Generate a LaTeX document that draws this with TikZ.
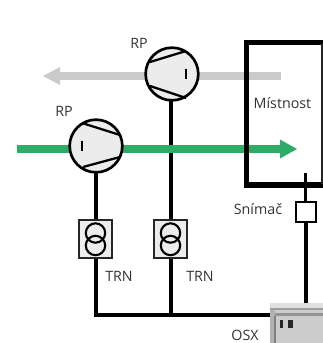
\documentclass[tikz,border=0pt]{standalone}
\usepackage{fontspec}
\setmainfont{Open Sans}
\definecolor{greenpipe}{HTML}{2FAD68}
\definecolor{graypipe}{HTML}{CACACA}
\definecolor{fillgray}{HTML}{ECECEC}
\definecolor{txt}{HTML}{333333}
\tikzset{
  wire/.style={line width=3pt,black},
  pumpbody/.style={circle,draw=black,line width=2pt,fill=fillgray,minimum size=39.5pt,inner sep=0pt},
  trnbox/.style={rectangle,draw=black!85,line width=1.6pt,fill=fillgray,minimum width=25pt,minimum height=29pt,inner sep=0pt},
  lab/.style={font=\fontsize{10.7pt}{12pt}\selectfont,text=txt,inner sep=0pt},
  ring/.style={draw=black,line width=1.6pt},
  pipeG/.style={line width=5.5pt,greenpipe},
  pipeH/.style={line width=6pt,graypipe},
  blade/.style={black,line width=1.7pt},
}
\begin{document}
\begin{tikzpicture}[x=0.75pt,y=-0.75pt]
\useasboundingbox (0,0) rectangle (323,343);
\coordinate (gs) at (17,149);
\coordinate (ge) at (280,149);
\coordinate (gt) at (297,149);
\coordinate (hs) at (281,76);
\coordinate (he) at (60,76);
\coordinate (ht) at (43,76);
\coordinate (br) at (170.5,315);
\coordinate (osxin) at (272,315);
\coordinate (sntop) at (305.5,173);
\coordinate (cabtop) at (305.5,303);
% gray pipe
\draw[pipeH] (hs) -- (he);
\fill[graypipe] (60,67) -- (ht) -- (60,85) -- cycle;
% nodes
\node[pumpbody] (p1) at (170.5,74) [xshift=1.1pt] {};
\node[trnbox] (t1) at (95.5,239) {};
\node[trnbox] (t2) at (170.5,239) {};
\node[rectangle,draw=black,line width=1.5pt,fill=white,minimum size=15pt,inner sep=0pt] (sn) at (305.5,212) {};
% wires
\draw[wire] (170.5,100) -- (t2.north);
\draw[wire] (95.5,172) -- (t1.north);
\draw[wire] (t1.south) |- (osxin);
\draw[wire] (t2.south) -- (br);
% green pipe
\draw[pipeG] (gs) -- (ge);
\fill[greenpipe] (280,139.5) -- (gt) -- (280,158.5) -- cycle;
\node[pumpbody] (p2) at (96,146) {};
% room
\draw[line width=3.8pt,black] (323,42.5) -- (246.5,42.5) -- (246.5,185) -- (323,185);
\draw[line width=1.1pt,black!85] (322,44) -- (322,184);
% pump details
\draw[blade] (150,62) -- (186,51);
\draw[blade] (150,86) -- (186,98);
\draw[black,line width=1.6pt] (186,69) -- (186,79);
\draw[blade] (82,123) -- (120,135);
\draw[blade] (83,167) -- (120,157);
\draw[black,line width=1.6pt] (82,141) -- (82,151);
% transformers
\draw[ring] (95.5,233) circle (9.7);
\draw[ring] (95.5,245.5) circle (9.7);
\draw[ring] (170.5,233) circle (9.7);
\draw[ring] (170.5,245.5) circle (9.7);
% sensor wires
\draw[line width=1.6pt,black] (sntop) -- (sn.north);
\draw[wire] (sn.south) -- (cabtop);
% cabinet
\fill[black!20] (270,303) rectangle (323,343);
\fill[black!12] (270,303) rectangle (323,308);
\fill[black!38] (270,308) rectangle (323,310);
\fill[black!42] (272,313) rectangle (323,316);
\fill[black!30] (270,310) rectangle (275,343);
\fill[black!50] (274,316) rectangle (276,343);
\fill[black!85] (280,320) rectangle (283,328);
\fill[black!85] (288,320) rectangle (293,328);
% labels
\node[lab] (lr1) at (139,43) {RP};
\node[lab] (lr2) at (64,111) {RP};
\node[lab] (lm) at (282.5,103.5) {Místnost};
\node[lab] (lt1) at (119,276) {TRN};
\node[lab] (lt2) at (200,276) {TRN};
\node[lab] (ls) at (258,209) {Snímač};
\node[lab] (lo) at (245,335) {OSX};
\end{tikzpicture}
\end{document}
